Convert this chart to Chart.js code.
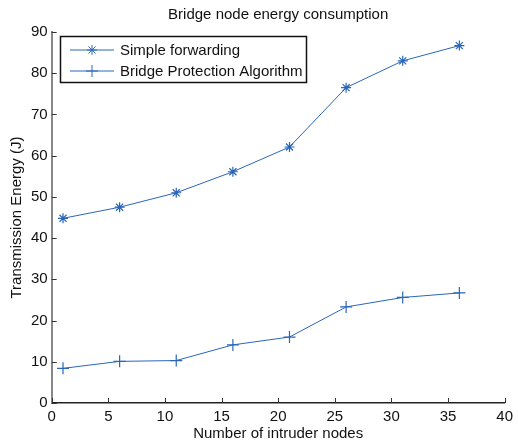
<!DOCTYPE html>
<html>
<head>
<meta charset="utf-8">
<script src="https://cdn.jsdelivr.net/npm/chart.js@4/dist/chart.umd.min.js"></script>
<style>
  html, body { margin: 0; padding: 0; background: #fff; }
  #wrap { width: 518px; height: 441px; }
</style>
</head>
<body>
<div id="wrap"><canvas id="energy"></canvas></div>
<script>
const intruder_nodes = [1, 6, 11, 16, 21, 26, 31, 36];
const simple_forwarding = [44.8, 47.5, 51.0, 56.1, 62.1, 76.5, 83.0, 86.7];
const bridge_protection = [8.4, 10.1, 10.3, 14.1, 16.0, 23.3, 25.6, 26.7];
const x_ticks = [0, 5, 10, 15, 20, 25, 30, 35, 40];
const y_ticks = [0, 10, 20, 30, 40, 50, 60, 70, 80, 90];

const chart_title = 'Bridge node energy consumption';
const line_color = '#2a66b8';
const font_family = '"Liberation Sans", Arial, Helvetica, sans-serif';

// matlab style ticks pointing into the plot, title centred over the axes
const inward_ticks = {
    id: 'inward_ticks',
    afterDraw(chart) {
        const ctx = chart.ctx;
        const x = chart.scales.x, y = chart.scales.y;
        ctx.save();
        ctx.strokeStyle = '#333';
        ctx.lineWidth = 1;
        x_ticks.forEach(v => {
            const px = Math.round(x.getPixelForValue(v)) + 0.5;
            ctx.beginPath();
            ctx.moveTo(px, y.bottom);
            ctx.lineTo(px, y.bottom - 5);
            ctx.stroke();
        });
        y_ticks.forEach(v => {
            const py = Math.round(y.getPixelForValue(v)) + 0.5;
            ctx.beginPath();
            ctx.moveTo(x.left, py);
            ctx.lineTo(x.left + 5, py);
            ctx.stroke();
        });
        ctx.fillStyle = '#111';
        ctx.font = '15px ' + font_family;
        ctx.textAlign = 'center';
        ctx.textBaseline = 'middle';
        ctx.fillText(chart_title, (x.left + x.right) / 2, 15);
        ctx.restore();
    }
};

// boxed legend in the upper left corner
const boxed_legend = {
    id: 'boxed_legend',
    afterDraw(chart) {
        const ctx = chart.ctx;
        const left = 60, top = 36, w = 246, h = 46;
        ctx.save();
        ctx.fillStyle = '#fff';
        ctx.fillRect(left, top, w, h);
        ctx.strokeStyle = '#111';
        ctx.lineWidth = 1.5;
        ctx.strokeRect(left + 0.5, top + 0.5, w, h);
        chart.data.datasets.forEach((ds, i) => {
            const cy = top + 14 + i * 21;
            ctx.strokeStyle = ds.borderColor;
            ctx.lineWidth = 1;
            ctx.beginPath();
            ctx.moveTo(left + 10, cy);
            ctx.lineTo(left + 54, cy);
            ctx.stroke();
            Chart.helpers.drawPoint(ctx, {
                pointStyle: ds.pointStyle, radius: ds.pointRadius, borderWidth: 1
            }, left + 32, cy);
            ctx.fillStyle = '#111';
            ctx.font = '15px ' + font_family;
            ctx.textBaseline = 'middle';
            ctx.fillText(ds.label, left + 60, cy + 1);
        });
        ctx.restore();
    }
};

new Chart(
    document.getElementById('energy'),
    {
        type: 'line',
        data: {
            datasets: [
                {
                    label: 'Simple forwarding',
                    data: intruder_nodes.map((n, i) => ({ x: n, y: simple_forwarding[i] })),
                    borderColor: line_color,
                    backgroundColor: line_color,
                    borderWidth: 1,
                    pointStyle: 'star',
                    pointRadius: 5,
                    pointBorderWidth: 1.2,
                    tension: 0
                },
                {
                    label: 'Bridge Protection Algorithm',
                    data: intruder_nodes.map((n, i) => ({ x: n, y: bridge_protection[i] })),
                    borderColor: line_color,
                    backgroundColor: line_color,
                    borderWidth: 1,
                    pointStyle: 'cross',
                    pointRadius: 6,
                    pointBorderWidth: 1.2,
                    tension: 0
                }
            ]
        },
        options: {
            responsive: true,
            maintainAspectRatio: false,
            animation: false,
            layout: { padding: { top: 32, right: 1, left: 8, bottom: -2 } },
            plugins: {
                legend: { display: false },
                tooltip: { enabled: false },
                title: { display: false }
            },
            scales: {
                x: {
                    type: 'linear',
                    min: 0,
                    max: 40,
                    afterBuildTicks: axis => { axis.ticks = x_ticks.map(v => ({ value: v })); },
                    grid: { display: false, drawTicks: false },
                    border: { display: true, color: '#222', width: 1.5 },
                    ticks: { color: '#111', padding: 5, font: { family: font_family, size: 15 } },
                    title: {
                        display: true,
                        text: 'Number of intruder nodes',
                        color: '#111',
                        font: { family: font_family, size: 15 },
                        padding: { top: -6, bottom: 0 }
                    }
                },
                y: {
                    min: 0,
                    max: 90,
                    afterBuildTicks: axis => { axis.ticks = y_ticks.map(v => ({ value: v })); },
                    grid: { display: false, drawTicks: false },
                    border: { display: true, color: '#888', width: 2 },
                    ticks: { color: '#111', padding: 4, font: { family: font_family, size: 15 } },
                    title: {
                        display: true,
                        text: 'Transmission Energy (J)',
                        color: '#111',
                        font: { family: font_family, size: 15 },
                        padding: { top: 0, bottom: 1 }
                    }
                }
            }
        },
        plugins: [inward_ticks, boxed_legend]
    }
);
</script>
</body>
</html>
